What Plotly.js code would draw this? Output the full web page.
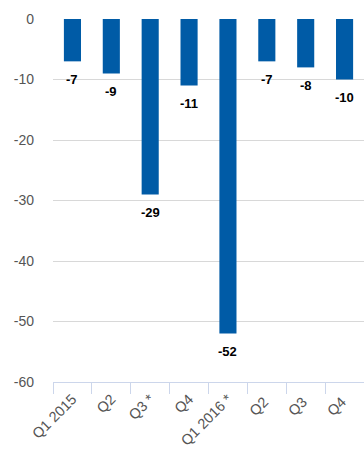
<!DOCTYPE html>
<html>
<head>
<meta charset="utf-8">
<script src="https://cdn.plot.ly/plotly-3.0.1.min.js"></script>
<style>
  html, body { margin: 0; padding: 0; background: #fff; }
  #chart { width: 364px; height: 454px; }
</style>
</head>
<body>
<div id="chart"></div>
<script>
// Quarterly values
const quarters = ["Q1 2015", "Q2", "Q3 *", "Q4", "Q1 2016 *", "Q2 ", "Q3 ", "Q4 "];
const values = [-7, -9, -29, -11, -52, -7, -8, -10];
const yTicks = [0, -10, -20, -30, -40, -50, -60];

const barColor = "#005ba6";

const trace = {
  type: "bar",
  x: quarters,
  y: values,
  marker: { color: barColor },
  width: 0.44,
  hoverinfo: "x+y"
};

// Value labels placed just below each bar end
const labels = quarters.map((q, i) => ({
  x: q,
  y: values[i],
  text: String(values[i]),
  showarrow: false,
  yanchor: "middle",
  yshift: -18,
  font: { family: "Liberation Sans, Arial, sans-serif", size: 13, color: "#000", weight: "bold" }
}));

const layout = {
  width: 364,
  height: 454,
  margin: { l: 53, r: 0, t: 19, b: 72 },
  paper_bgcolor: "#fff",
  plot_bgcolor: "#fff",
  showlegend: false,
  font: { family: "Liberation Sans, Arial, sans-serif", color: "#555" },
  xaxis: {
    type: "category",
    tickangle: -45,
    tickson: "boundaries",
    ticks: "outside",
    ticklen: 11,
    tickcolor: "#ccd6eb",
    showline: true,
    linecolor: "#ccd6eb",
    linewidth: 1,
    showgrid: false,
    ticklabelstandoff: 2,
    tickfont: { size: 14.5, color: "#555" },
    fixedrange: true
  },
  yaxis: {
    range: [-60, 0],
    tickvals: yTicks,
    ticktext: yTicks.map(String),
    showgrid: true,
    gridcolor: "#d8d8d8",
    gridwidth: 1,
    zeroline: false,
    showline: false,
    ticks: "",
    ticklabelstandoff: 18,
    tickfont: { size: 14, color: "#555" },
    fixedrange: true
  },
  annotations: labels
};

Plotly.newPlot("chart", [trace], layout, { displayModeBar: false, staticPlot: true });
</script>
</body>
</html>
